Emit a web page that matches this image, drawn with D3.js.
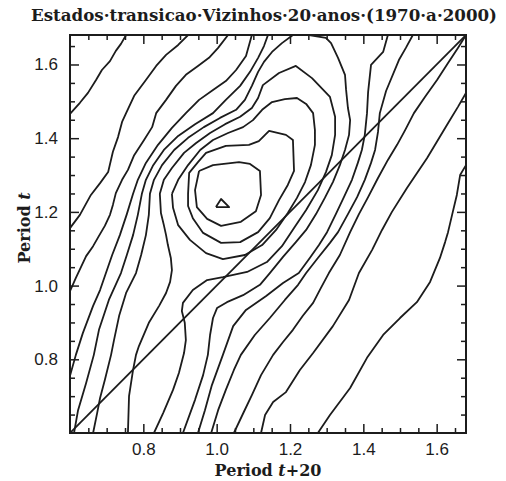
<!DOCTYPE html>
<html>
<head>
<meta charset="utf-8">
<script src="https://cdn.jsdelivr.net/npm/d3@7"></script>
<style>
  html, body { margin: 0; padding: 0; background: #fff; }
  svg { display: block; }
</style>
</head>
<body>
<div id="chart"></div>
<script>
const titleText = 'Estados·transicao·Vizinhos·20·anos·(1970·a·2000)';
const majorTicks = [0.8, 1.0, 1.2, 1.4, 1.6];
const minorTicks = [0.65, 0.7, 0.75, 0.85, 0.9, 0.95, 1.05, 1.1, 1.15, 1.25, 1.3, 1.35, 1.45, 1.5, 1.55, 1.65];
const diagonal = [[0.6, 0.6], [1.68, 1.68]];

// contour lines, [period t+20, period t]
const lineA = [[0.600,1.466],[0.627,1.496],[0.649,1.523],[0.671,1.558],[0.687,1.585],[0.709,1.609],[0.725,1.637],[0.739,1.656],[0.753,1.68]];
const lineB = [[0.600,1.156],[0.627,1.192],[0.657,1.246],[0.682,1.278],[0.704,1.308],[0.717,1.363],[0.731,1.403],[0.742,1.444],[0.753,1.468],[0.775,1.515],[0.807,1.558],[0.835,1.596],[0.862,1.626],[0.895,1.653],[0.922,1.68]];
const lineC = [[0.600,0.985],[0.616,1.021],[0.644,1.080],[0.663,1.107],[0.679,1.135],[0.695,1.162],[0.709,1.192],[0.717,1.219],[0.725,1.251],[0.742,1.287],[0.758,1.314],[0.775,1.354],[0.802,1.395],[0.824,1.430],[0.835,1.468],[0.862,1.504],[0.889,1.542],[0.916,1.572],[0.949,1.596],[0.979,1.618],[1.004,1.645],[1.031,1.68]];
const lineD = [[0.600,0.755],[0.616,0.812],[0.635,0.871],[0.663,0.945],[0.682,0.988],[0.698,1.034],[0.715,1.083],[0.736,1.137],[0.755,1.194],[0.772,1.249],[0.785,1.287],[0.807,1.333],[0.840,1.382],[0.878,1.428],[0.916,1.468],[0.952,1.504],[0.990,1.531],[1.025,1.555],[1.053,1.585],[1.080,1.623],[1.096,1.68]];
const lineE = [[0.611,0.600],[0.622,0.662],[0.644,0.736],[0.665,0.812],[0.679,0.880],[0.706,0.961],[0.739,1.034],[0.755,1.083],[0.772,1.137],[0.785,1.192],[0.796,1.249],[0.807,1.287],[0.826,1.325],[0.856,1.368],[0.895,1.406],[0.941,1.438],[0.990,1.468],[1.025,1.504],[1.064,1.542],[1.091,1.580],[1.113,1.618],[1.129,1.650],[1.140,1.68]];
const lineF = [[0.663,0.600],[0.674,0.654],[0.682,0.695],[0.695,0.744],[0.712,0.812],[0.720,0.852],[0.734,0.918],[0.753,0.980],[0.780,1.034],[0.794,1.083],[0.807,1.137],[0.815,1.192],[0.818,1.249],[0.829,1.287],[0.851,1.327],[0.884,1.368],[0.922,1.401],[0.965,1.430],[1.009,1.455],[1.053,1.477],[1.077,1.504],[1.096,1.542],[1.113,1.580],[1.129,1.607],[1.151,1.634],[1.178,1.658],[1.208,1.68]];
// outer ring around the peak, both ends on the bottom axis
const lineG = [[0.758,0.600],[0.761,0.700],[0.772,0.771],[0.780,0.812],[0.788,0.836],[0.815,0.899],[0.843,0.945],[0.862,0.980],[0.873,1.010],[0.878,1.042],[0.875,1.075],[0.867,1.110],[0.862,1.137],[0.856,1.164],[0.848,1.197],[0.845,1.249],[0.856,1.287],[0.878,1.319],[0.911,1.360],[0.944,1.387],[0.982,1.414],[1.023,1.438],[1.064,1.458],[1.096,1.482],[1.113,1.509],[1.126,1.544],[1.170,1.577],[1.216,1.596],[1.260,1.563],[1.309,1.512],[1.323,1.458],[1.323,1.409],[1.314,1.354],[1.298,1.308],[1.276,1.259],[1.244,1.205],[1.211,1.156],[1.178,1.107],[1.137,1.064],[1.083,1.037],[1.017,1.023],[0.974,1.015],[0.935,0.988],[0.908,0.953],[0.905,0.931],[0.913,0.899],[0.916,0.852],[0.911,0.817],[0.897,0.763],[0.881,0.717],[0.854,0.654],[0.829,0.600]];
const ringB = [[0.878,1.249],[0.895,1.287],[0.922,1.327],[0.955,1.368],[0.990,1.395],[1.031,1.414],[1.072,1.430],[1.099,1.449],[1.124,1.477],[1.151,1.498],[1.186,1.506],[1.219,1.509],[1.244,1.493],[1.263,1.468],[1.268,1.422],[1.268,1.382],[1.257,1.327],[1.241,1.281],[1.219,1.238],[1.194,1.197],[1.162,1.151],[1.124,1.110],[1.077,1.083],[1.017,1.072],[0.971,1.088],[0.927,1.124],[0.895,1.164],[0.881,1.211],[0.878,1.249]];
const ringC = [[0.922,1.249],[0.925,1.306],[0.949,1.335],[0.971,1.360],[1.025,1.379],[1.088,1.382],[1.115,1.392],[1.143,1.420],[1.189,1.409],[1.208,1.395],[1.211,1.311],[1.194,1.273],[1.170,1.232],[1.145,1.183],[1.113,1.145],[1.064,1.118],[1.012,1.116],[0.963,1.143],[0.935,1.183],[0.922,1.216],[0.922,1.249]];
const ringD = [[0.952,1.311],[0.990,1.327],[1.061,1.335],[1.091,1.330],[1.118,1.311],[1.121,1.246],[1.107,1.202],[1.066,1.173],[1.012,1.162],[0.974,1.181],[0.946,1.213],[0.941,1.259],[0.952,1.311]];
const peak = [[0.998,1.213],[1.012,1.235],[1.034,1.213],[0.998,1.213]];
const lineH = [[0.908,0.600],[0.941,0.690],[0.963,0.757],[0.976,0.812],[0.982,0.866],[0.990,0.912],[1.001,0.939],[1.028,0.955],[1.072,0.974],[1.118,1.002],[1.145,1.034],[1.181,1.078],[1.216,1.118],[1.244,1.151],[1.271,1.194],[1.295,1.238],[1.317,1.281],[1.336,1.327],[1.350,1.368],[1.361,1.409],[1.364,1.449],[1.358,1.482],[1.353,1.531],[1.350,1.572],[1.331,1.618],[1.312,1.658],[1.298,1.672],[1.252,1.68]];
const lineI = [[0.949,0.600],[0.968,0.662],[0.987,0.730],[1.017,0.812],[1.045,0.890],[1.080,0.934],[1.135,0.972],[1.181,1.007],[1.224,1.034],[1.254,1.075],[1.279,1.110],[1.301,1.145],[1.325,1.194],[1.347,1.240],[1.369,1.287],[1.385,1.333],[1.396,1.368],[1.404,1.409],[1.410,1.468],[1.413,1.525],[1.421,1.599],[1.454,1.634],[1.467,1.68]];
const lineJ = [[0.985,0.600],[1.004,0.662],[1.025,0.717],[1.047,0.771],[1.066,0.812],[1.104,0.866],[1.145,0.912],[1.186,0.961],[1.222,1.002],[1.244,1.034],[1.276,1.075],[1.309,1.116],[1.331,1.145],[1.358,1.194],[1.383,1.240],[1.404,1.287],[1.421,1.333],[1.432,1.368],[1.440,1.417],[1.445,1.468],[1.462,1.528],[1.497,1.612],[1.516,1.645],[1.535,1.68]];
const lineK = [[1.047,0.600],[1.074,0.657],[1.096,0.703],[1.121,0.757],[1.154,0.812],[1.181,0.847],[1.208,0.880],[1.235,0.918],[1.263,0.953],[1.284,0.993],[1.306,1.034],[1.336,1.083],[1.364,1.145],[1.388,1.194],[1.413,1.240],[1.440,1.292],[1.467,1.341],[1.492,1.382],[1.514,1.422],[1.538,1.468],[1.568,1.512],[1.601,1.558],[1.631,1.604],[1.658,1.645],[1.68,1.68]];
const lineL = [[1.121,0.600],[1.132,0.649],[1.154,0.684],[1.189,0.711],[1.227,0.771],[1.263,0.817],[1.317,0.890],[1.361,0.961],[1.388,1.034],[1.424,1.097],[1.451,1.151],[1.478,1.200],[1.519,1.265],[1.574,1.346],[1.628,1.436],[1.658,1.485],[1.68,1.523]];
const lineM = [[1.276,0.600],[1.309,0.649],[1.364,0.722],[1.410,0.804],[1.454,0.866],[1.500,0.912],[1.546,0.955],[1.582,1.010],[1.609,1.075],[1.623,1.118],[1.631,1.145],[1.644,1.200],[1.655,1.246],[1.664,1.300],[1.68,1.327]];

const contours = [lineA, lineB, lineC, lineD, lineE, lineF, lineG, ringB, ringC, ringD, peak,
                  lineH, lineI, lineJ, lineK, lineL, lineM];

const width = 506, height = 481;
const plot = { left: 70, right: 466, top: 35, bottom: 433 };
const ink = '#1c1c1c';

const svg = d3.select('#chart')
    .append('svg')
    .attr('width', width)
    .attr('height', height);

const x = d3.scaleLinear().domain([0.6, 1.68]).range([plot.left, plot.right]);
const y = d3.scaleLinear().domain([0.6, 1.68]).range([plot.bottom, plot.top]);

svg.append('defs').append('clipPath')
    .attr('id', 'plot-clip')
    .append('rect')
    .attr('x', plot.left)
    .attr('y', plot.top)
    .attr('width', plot.right - plot.left)
    .attr('height', plot.bottom - plot.top);

const line = d3.line()
    .x(d => x(d[0]))
    .y(d => y(d[1]));

const marks = svg.append('g').attr('clip-path', 'url(#plot-clip)');

marks.selectAll('path.contour')
    .data(contours)
    .enter()
    .append('path')
    .attr('class', 'contour')
    .attr('d', line)
    .attr('fill', 'none')
    .attr('stroke', ink)
    .attr('stroke-width', 1.8)
    .attr('stroke-linejoin', 'round');

marks.append('path')
    .datum(diagonal)
    .attr('d', line)
    .attr('fill', 'none')
    .attr('stroke', ink)
    .attr('stroke-width', 1.8);

// inward ticks on all four sides, labels only bottom and left
function styleAxis(g) {
    g.select('.domain').remove();
    g.selectAll('line').attr('stroke', ink).attr('stroke-width', 1.5);
    g.selectAll('text')
        .attr('fill', ink)
        .style('font-family', '"Liberation Sans", Arial, sans-serif')
        .style('font-size', '17px');
}

const sides = [
    { axis: d3.axisBottom(x), at: `translate(0,${plot.bottom})`, labels: true, pad: 10 },
    { axis: d3.axisTop(x), at: `translate(0,${plot.top})`, labels: false, pad: 10 },
    { axis: d3.axisLeft(y), at: `translate(${plot.left},0)`, labels: true, pad: 12 },
    { axis: d3.axisRight(y), at: `translate(${plot.right},0)`, labels: false, pad: 12 }
];

sides.forEach(s => {
    svg.append('g')
        .attr('transform', s.at)
        .call(s.axis.tickValues(minorTicks).tickSize(-5).tickFormat(''))
        .call(styleAxis);

    svg.append('g')
        .attr('transform', s.at)
        .call(s.axis.tickValues(majorTicks).tickSize(-9).tickPadding(s.pad)
            .tickFormat(s.labels ? d3.format('.1f') : ''))
        .call(styleAxis);
});

svg.append('rect')
    .attr('x', plot.left)
    .attr('y', plot.top)
    .attr('width', plot.right - plot.left)
    .attr('height', plot.bottom - plot.top)
    .attr('fill', 'none')
    .attr('stroke', ink)
    .attr('stroke-width', 2);

const serif = '"DejaVu Serif", "Liberation Serif", serif';

svg.append('text')
    .attr('x', 264)
    .attr('y', 21)
    .attr('text-anchor', 'middle')
    .attr('textLength', 466)
    .attr('lengthAdjust', 'spacingAndGlyphs')
    .style('font-family', serif)
    .style('font-size', '17px')
    .style('font-weight', 'bold')
    .attr('fill', ink)
    .text(titleText);

const xTitle = svg.append('text')
    .attr('x', (plot.left + plot.right) / 2)
    .attr('y', 476)
    .attr('text-anchor', 'middle')
    .style('font-family', serif)
    .style('font-size', '16px')
    .style('font-weight', 'bold')
    .attr('fill', ink);
xTitle.append('tspan').text('Period ');
xTitle.append('tspan').style('font-style', 'italic').text('t');
xTitle.append('tspan').text('+20');

const yTitle = svg.append('text')
    .attr('transform', `translate(30,${(plot.top + plot.bottom) / 2 - 6}) rotate(-90)`)
    .attr('text-anchor', 'middle')
    .style('font-family', serif)
    .style('font-size', '16px')
    .style('font-weight', 'bold')
    .attr('fill', ink);
yTitle.append('tspan').text('Period ');
yTitle.append('tspan').style('font-style', 'italic').text('t');
</script>
</body>
</html>
